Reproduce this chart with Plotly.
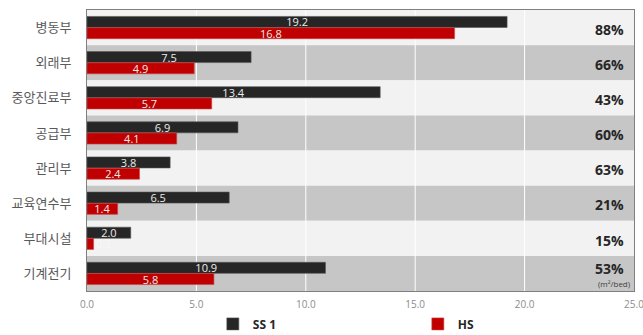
import plotly.graph_objects as go

categories = ["병동부", "외래부", "중앙진료부", "공급부", "관리부", "교육연수부", "부대시설", "기계전기"]
ss1_values = [19.2, 7.5, 13.4, 6.9, 3.8, 6.5, 2.0, 10.9]
hs_values = [16.8, 4.9, 5.7, 4.1, 2.4, 1.4, 0.3, 5.8]
ratio_labels = ["88%", "66%", "43%", "60%", "63%", "21%", "15%", "53%"]
x_ticks = [0, 5, 10, 15, 20, 25]

FONT = "Open Sans, Noto Sans CJK KR, sans-serif"
KFONT = "Noto Sans CJK KR, sans-serif"

fig = go.Figure()

fig.add_trace(go.Bar(
    name="SS 1", y=categories, x=ss1_values, orientation="h",
    marker=dict(color="#262626", line=dict(color="#555555", width=0.6)),
    text=[f"{v:.1f}" for v in ss1_values], textposition="inside",
    insidetextanchor="middle", textangle=0, constraintext="none",
    textfont=dict(color="#ececec", size=11, family=FONT),
))

hs_pos = ["inside" if v >= 1 else "outside" for v in hs_values]
fig.add_trace(go.Bar(
    name="HS", y=categories, x=hs_values, orientation="h",
    marker=dict(color="#c00000", line=dict(color="#d04040", width=0.6)),
    text=[f"{v:.1f}" for v in hs_values], textposition=hs_pos,
    insidetextanchor="middle", textangle=0, cliponaxis=False, constraintext="none",
    textfont=dict(color="#ececec", size=11, family=FONT),
    outsidetextfont=dict(color="#f8f8f8", size=10, family=FONT),
))

# alternating row bands and white vertical guide lines
shapes = []
for i in range(len(categories)):
    shapes.append(dict(type="rect", xref="paper", yref="y", x0=0, x1=1,
                       y0=i - 0.5, y1=i + 0.5, layer="below", line=dict(width=0),
                       fillcolor="#f2f2f2" if i % 2 == 0 else "#c6c6c6"))
for t in x_ticks[1:-1]:
    shapes.append(dict(type="line", xref="x", yref="paper", x0=t, x1=t, y0=0, y1=1,
                       layer="below", line=dict(color="#ffffff", width=1)))

annotations = []
n = len(categories)
for i, lab in enumerate(ratio_labels):
    yy = i + 0.05 if i < n - 1 else i - 0.15
    annotations.append(dict(x=0.985, xref="paper", y=yy, yref="y", text=f"<b>{lab}</b>",
                            showarrow=False, xanchor="right", yanchor="middle",
                            font=dict(size=14, color="#262626", family=FONT)))
annotations.append(dict(x=0.999, xref="paper", y=n - 0.5, yref="y",
                        text="(m²/bed)", showarrow=False, xanchor="right", yanchor="bottom",
                        font=dict(size=8, color="#404040", family=FONT)))

fig.update_layout(
    width=643, height=335,
    margin=dict(l=87, r=9, t=10, b=44, autoexpand=False),
    paper_bgcolor="white", plot_bgcolor="#f2f2f2",
    barmode="group", bargap=0.36, bargroupgap=0.02,
    shapes=shapes, annotations=annotations,
    font=dict(family=FONT),
    showlegend=True,
    legend=dict(orientation="h", x=0.331, xref="container", xanchor="left",
                y=-0.117, yref="paper", yanchor="middle",
                entrywidth=160, traceorder="normal", itemwidth=30,
                bgcolor="rgba(0,0,0,0)",
                font=dict(size=12, color="#262626", family="Open Sans, sans-serif", weight="bold")),
    xaxis=dict(range=[0, 25], tickvals=x_ticks, ticktext=[f"{t:.1f}" for t in x_ticks],
               showgrid=False, zeroline=False, showline=True, linecolor="#7f7f7f",
               linewidth=1, mirror=True, ticks="", ticklabelstandoff=4,
               ticklabeloverflow="allow",
               tickfont=dict(size=10, color="#8c8c8c", family=FONT)),
    yaxis=dict(range=[n - 0.5, -0.5], showgrid=False, showline=True, linecolor="#7f7f7f",
               linewidth=1, mirror=True, ticks="", ticklabelstandoff=12,
               tickfont=dict(size=13, color="#595959", family=KFONT)),
)

fig.write_html("out.html")
